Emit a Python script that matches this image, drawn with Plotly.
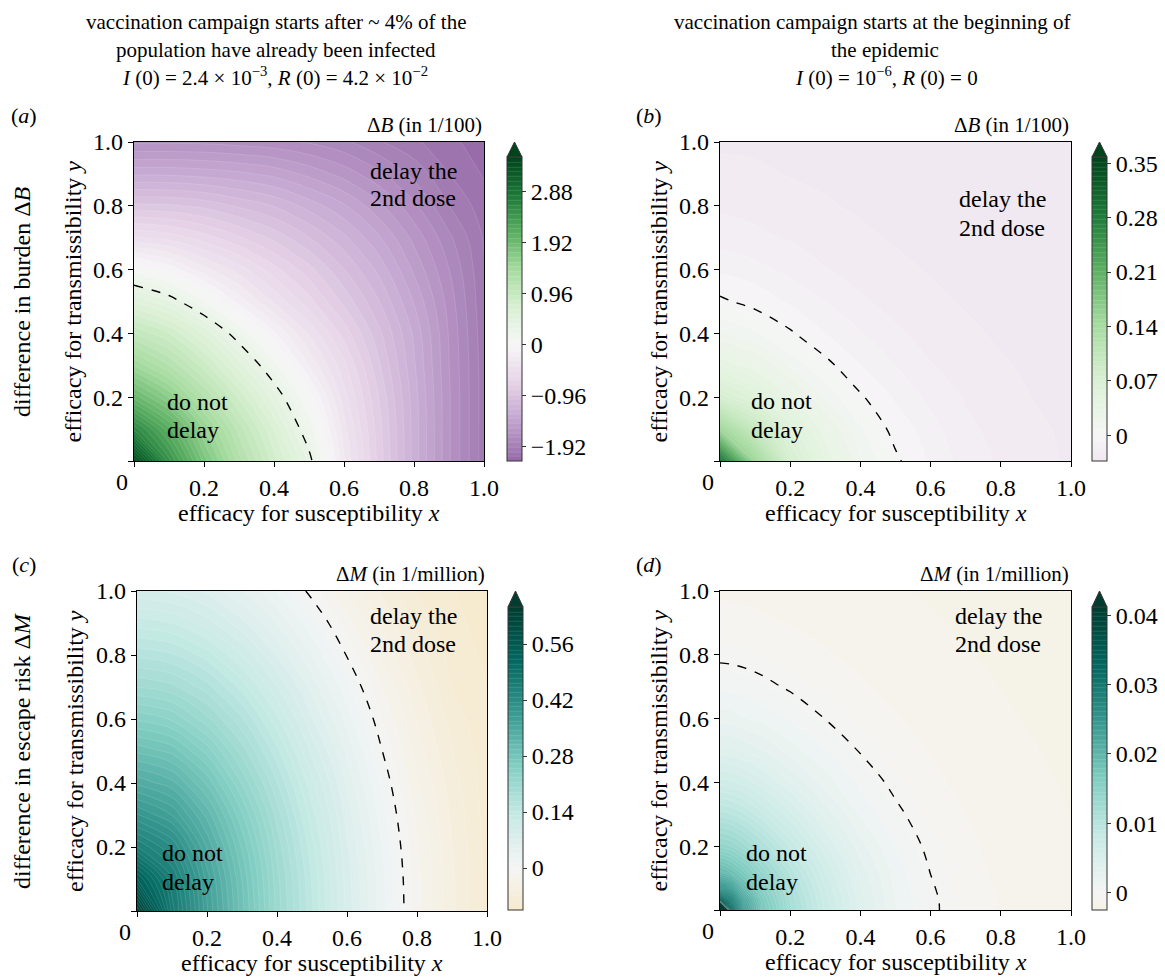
import plotly.graph_objects as go

W, H = 1165, 977
SERIF = "Liberation Serif, Times New Roman, serif"

# ---------------- data (read / estimated from the reference) ----------------
# common grid for panels a, b, c
grid_x = [0, 0.1, 0.2, 0.3, 0.4, 0.5, 0.6, 0.7, 0.8, 0.9, 1.0]
grid_y = [0, 0.1, 0.2, 0.3, 0.4, 0.5, 0.6, 0.7, 0.8, 0.9, 1.0]

# panel (a): difference in burden dB (in 1/100), start after ~4% infected
dB_late = [
    [3.45, 2.5, 1.8, 1.25, 0.8, 0.38, -0.3, -0.8, -1.25, -1.65, -1.98],
    [2.62, 2.13, 1.56, 1.08, 0.66, 0.2, -0.37, -0.82, -1.25, -1.65, -1.98],
    [1.98, 1.65, 1.22, 0.83, 0.44, 0.015, -0.46, -0.86, -1.26, -1.65, -1.98],
    [1.47, 1.21, 0.89, 0.54, 0.17, -0.23, -0.56, -0.93, -1.29, -1.66, -1.98],
    [1.03, 0.85, 0.57, 0.22, -0.12, -0.42, -0.71, -1.01, -1.32, -1.67, -1.99],
    [0.57, 0.41, 0.13, -0.17, -0.42, -0.64, -0.88, -1.12, -1.4, -1.7, -2.0],
    [0.08, -0.07, -0.28, -0.45, -0.64, -0.82, -1.03, -1.24, -1.5, -1.75, -2.01],
    [-0.48, -0.53, -0.63, -0.75, -0.88, -1.03, -1.19, -1.38, -1.6, -1.82, -2.03],
    [-0.92, -0.93, -0.97, -1.05, -1.13, -1.25, -1.38, -1.55, -1.73, -1.93, -2.07],
    [-1.32, -1.32, -1.34, -1.37, -1.42, -1.51, -1.61, -1.73, -1.87, -2.02, -2.12],
    [-1.68, -1.68, -1.68, -1.7, -1.72, -1.76, -1.82, -1.92, -2.0, -2.09, -2.15],
]

# panel (b): dB (in 1/100), campaign at the beginning of the epidemic
dB_early = [
    [0.31, 0.15, 0.075, 0.04, 0.017, 0.002, -0.0101, -0.0172, -0.0218, -0.0249, -0.028],
    [0.15, 0.0965, 0.0569, 0.0297, 0.011, -0.0036, -0.0126, -0.0195, -0.0228, -0.0258, -0.0282],
    [0.075, 0.0569, 0.0335, 0.015, 0.0014, -0.0098, -0.0164, -0.0214, -0.0243, -0.0273, -0.0284],
    [0.04, 0.0297, 0.015, 0.0032, -0.0085, -0.0147, -0.0205, -0.0233, -0.0262, -0.0282, -0.0288],
    [0.017, 0.011, 0.0014, -0.0085, -0.0141, -0.02, -0.0227, -0.0254, -0.028, -0.0286, -0.0291],
    [0.002, -0.0036, -0.0098, -0.0147, -0.02, -0.0225, -0.0251, -0.0277, -0.0285, -0.029, -0.0295],
    [-0.0101, -0.0126, -0.0164, -0.0205, -0.0227, -0.0251, -0.0275, -0.0284, -0.0289, -0.0294, -0.03],
    [-0.0172, -0.0195, -0.0214, -0.0233, -0.0254, -0.0277, -0.0284, -0.0289, -0.0294, -0.0299, -0.0304],
    [-0.0218, -0.0228, -0.0243, -0.0262, -0.028, -0.0285, -0.0289, -0.0294, -0.0299, -0.0304, -0.0309],
    [-0.0249, -0.0258, -0.0273, -0.0282, -0.0286, -0.029, -0.0294, -0.0299, -0.0304, -0.0309, -0.031],
    [-0.028, -0.0282, -0.0284, -0.0288, -0.0291, -0.0295, -0.03, -0.0304, -0.0309, -0.031, -0.031],
]

# panel (c): difference in escape risk dM (in 1/million), late start
dM_late = [
    [0.63, 0.47, 0.37, 0.29, 0.21, 0.145, 0.08, 0.03, -0.0178, -0.055, -0.085],
    [0.536, 0.454, 0.363, 0.285, 0.207, 0.143, 0.0786, 0.0288, -0.0187, -0.0556, -0.0852],
    [0.452, 0.416, 0.344, 0.272, 0.199, 0.136, 0.0743, 0.0251, -0.0216, -0.0573, -0.0857],
    [0.3935, 0.368, 0.317, 0.252, 0.186, 0.125, 0.0673, 0.019, -0.0263, -0.0601, -0.0866],
    [0.3418, 0.3254, 0.283, 0.225, 0.168, 0.111, 0.0578, 0.0108, -0.0328, -0.0641, -0.0877],
    [0.2947, 0.2815, 0.2454, 0.197, 0.1473, 0.0929, 0.0459, 0.0004, -0.0407, -0.069, -0.0892],
    [0.2477, 0.2366, 0.2063, 0.1689, 0.1233, 0.074, 0.032, -0.0106, -0.0473, -0.075, -0.091],
    [0.2023, 0.1946, 0.1724, 0.1388, 0.0968, 0.0562, 0.0162, -0.0231, -0.0549, -0.0819, -0.0932],
    [0.1641, 0.1573, 0.1377, 0.1072, 0.0712, 0.0367, -0.0011, -0.0371, -0.0634, -0.0866, -0.0955],
    [0.1259, 0.1198, 0.1022, 0.0758, 0.0483, 0.0159, -0.0178, -0.0483, -0.0728, -0.0894, -0.0982],
    [0.0877, 0.0821, 0.0694, 0.0499, 0.0244, -0.0053, -0.0357, -0.0593, -0.0829, -0.0925, -0.101],
]

# panel (d): dM (in 1/million), campaign at the beginning (finer grid near origin)
grid_x_d = [0, 0.03, 0.07, 0.12, 0.2, 0.3, 0.4, 0.5, 0.6, 0.7, 0.8, 0.9, 1.0]
grid_y_d = [0, 0.03, 0.07, 0.12, 0.2, 0.3, 0.4, 0.5, 0.6, 0.7, 0.8, 0.9, 1.0]
dM_early = [
    [0.06, 0.0343, 0.0238, 0.0174, 0.012, 0.0075, 0.004, 0.0016, 0.00027, -0.0008, -0.00123, -0.00151, -0.0018],
    [0.0365, 0.0298, 0.0224, 0.0169, 0.0118, 0.00736, 0.00394, 0.00157, 0.00025, -0.00081, -0.00123, -0.00151, -0.0018],
    [0.026, 0.0239, 0.0191, 0.0156, 0.0112, 0.007, 0.0037, 0.00145, 0.00014, -0.0009, -0.00125, -0.00152, -0.0018],
    [0.0195, 0.0185, 0.0165, 0.0138, 0.0102, 0.00636, 0.00333, 0.00127, -0.00003, -0.001, -0.00128, -0.00157, -0.00181],
    [0.0143, 0.0139, 0.0127, 0.011, 0.00825, 0.00506, 0.00254, 0.000877, -0.000294, -0.00107, -0.00135, -0.00163, -0.00183],
    [0.0101, 0.00984, 0.00911, 0.00787, 0.00587, 0.0034, 0.00146, 0.000274, -0.00071, -0.00118, -0.00145, -0.00173, -0.00186],
    [0.00671, 0.00653, 0.00604, 0.00519, 0.00364, 0.00191, 0.000709, -0.000314, -0.00106, -0.00131, -0.00158, -0.00181, -0.00189],
    [0.00392, 0.00381, 0.00351, 0.00299, 0.00193, 0.000891, -0.0000809, -0.000885, -0.00121, -0.00146, -0.00171, -0.00185, -0.00192],
    [0.00199, 0.00189, 0.00162, 0.00134, 0.0008, -0.0000222, -0.000729, -0.00114, -0.00137, -0.00161, -0.00182, -0.00189, -0.00196],
    [0.00074, 0.000689, 0.00055, 0.000306, -0.000151, -0.000734, -0.00111, -0.00132, -0.00155, -0.00178, -0.00186, -0.00193, -0.002],
    [-0.000252, -0.000287, -0.000384, -0.000555, -0.000911, -0.00113, -0.00131, -0.00151, -0.00173, -0.00184, -0.00191, -0.00197, -0.00204],
    [-0.00102, -0.00103, -0.00105, -0.0011, -0.00119, -0.00134, -0.00152, -0.00171, -0.00183, -0.00189, -0.00196, -0.00202, -0.00209],
    [-0.00125, -0.00126, -0.00128, -0.00132, -0.00141, -0.00156, -0.00172, -0.00183, -0.00189, -0.00194, -0.002, -0.00207, -0.00213],
]

axis_ticks = [0.2, 0.4, 0.6, 0.8, 1.0]
axis_ticktext = ['0.2', '0.4', '0.6', '0.8', '1.0']
cb_ticks_a = [-1.92, -0.96, 0, 0.96, 1.92, 2.88]
cb_ticks_b = [0, 0.07, 0.14, 0.21, 0.28, 0.35]
cb_ticks_c = [0, 0.14, 0.28, 0.42, 0.56]
cb_ticks_d = [0, 0.01, 0.02, 0.03, 0.04]
cb_range_a = (-2.20, 3.54)
cb_range_b = (-0.033, 0.358)
cb_range_c = (-0.105, 0.6525)
cb_range_d = (-0.00254, 0.0412)

# ---------------- styling helpers ----------------
PRGN = ['#40004b', '#762a83', '#9970ab', '#c2a5cf', '#e7d4e8', '#f7f7f7',
        '#d9f0d3', '#a6dba0', '#5aae61', '#1b7837', '#00441b']
BRBG = ['#543005', '#8c510a', '#bf812d', '#dfc27d', '#f6e8c3', '#f5f5f5',
        '#c7eae5', '#80cdc1', '#35978f', '#01665e', '#003c30']


def hex2rgb(h):
    return [int(h[i:i + 2], 16) for i in (1, 3, 5)]


def cmap_at(anchors, t):
    t = min(max(t, 0), 1)
    pos = t * (len(anchors) - 1)
    i = min(int(pos), len(anchors) - 2)
    f = pos - i
    a, b = hex2rgb(anchors[i]), hex2rgb(anchors[i + 1])
    c = [round(a[j] + (b[j] - a[j]) * f) for j in range(3)]
    return f"rgb({c[0]},{c[1]},{c[2]})"


def trunc_scale(anchors, vmin, vmax):
    S = max(abs(vmin), abs(vmax))
    out = []
    for i in range(41):
        t = i / 40
        v = vmin + t * (vmax - vmin)
        out.append([t, cmap_at(anchors, 0.5 + v / (2 * S))])
    return out


def px(x):
    return x / W


def py(y):
    return 1 - y / H


def fmt(v):
    s = f"{v:g}"
    return s.replace('-', '−')


panels = [
    dict(x=grid_x, y=grid_y, z=dB_late, cm=PRGN, rng=cb_range_a, dash=0.32, ax=(134, 484, 142, 461),
         cb=(507, 522, 157, 461, 142), tv=cb_ticks_a, dot=0.96,
         lab='(<i>a</i>)', cbl='Δ<i>B</i> (in 1/100)',
         t1=('delay the', '2nd dose', 413, 171, 198), t2=('do not', 'delay', 165, 402, 430)),
    dict(x=grid_x, y=grid_y, z=dB_early, cm=PRGN, rng=cb_range_b, dash=0.0, ax=(720, 1071, 142, 461),
         cb=(1092, 1107, 157, 461, 142), tv=cb_ticks_b, dot=0.0,
         lab='(<i>b</i>)', cbl='Δ<i>B</i> (in 1/100)',
         t1=('delay the', '2nd dose', 1002, 199, 228), t2=('do not', 'delay', 749, 401, 430)),
    dict(x=grid_x, y=grid_y, z=dM_late, cm=BRBG, rng=cb_range_c, dash=0.0, ax=(137, 487, 591, 911),
         cb=(508, 523, 607, 910, 591), tv=cb_ticks_c, dot=0.0,
         lab='(<i>c</i>)', cbl='Δ<i>M</i> (in 1/million)',
         t1=('delay the', '2nd dose', 413, 616, 644), t2=('do not', 'delay', 160, 853, 882)),
    dict(x=grid_x_d, y=grid_y_d, z=dM_early, cm=BRBG, rng=cb_range_d, dash=0.0, ax=(720, 1071, 591, 910),
         cb=(1092, 1107, 607, 910, 591), tv=cb_ticks_d, dot=0.0,
         lab='(<i>d</i>)', cbl='Δ<i>M</i> (in 1/million)',
         t1=('delay the', '2nd dose', 998, 616, 644), t2=('do not', 'delay', 744, 853, 882)),
]

fig = go.Figure()
shapes = []
annotations = []


def ann(text, x, y, size=24, xanchor='center', angle=0):
    annotations.append(dict(text=text, x=px(x), y=py(y), xref='paper', yref='paper', showarrow=False,
                            xanchor=xanchor, yanchor='middle', textangle=angle,
                            font=dict(family=SERIF, size=size, color='black')))


layout_axes = {}
for i, P in enumerate(panels):
    n = '' if i == 0 else str(i + 1)
    xa, ya = 'x' + n, 'y' + n
    L, R, T, B = P['ax']
    vmin, vmax = P['rng']
    cs = trunc_scale(P['cm'], vmin, vmax)
    cL, cR, cT, cB, cTip = P['cb']
    nlev = 64
    fig.add_trace(go.Contour(
        x=P['x'], y=P['y'], z=P['z'], xaxis=xa, yaxis=ya, colorscale=cs, zauto=False,
        zmin=vmin, zmax=vmax, hoverinfo='skip',
        contours=dict(start=vmin, end=vmax, size=(vmax - vmin) / nlev, coloring='fill', showlines=True),
        line=dict(width=0.5, color='rgba(255,255,255,0.25)', smoothing=1.0),
        colorbar=dict(x=px(cL), xanchor='left', y=py(cB), yanchor='bottom', len=cB - cT, lenmode='pixels',
                      thickness=cR - cL, thicknessmode='pixels', xpad=0, ypad=0, outlinewidth=1,
                      outlinecolor='#333', ticks='outside', ticklen=4, tickwidth=1, tickcolor='#333',
                      tickvals=P['tv'], ticktext=[fmt(v) for v in P['tv']],
                      tickfont=dict(family=SERIF, size=24, color='black')),
    ))
    fig.add_trace(go.Contour(
        x=P['x'], y=P['y'], z=P['z'], xaxis=xa, yaxis=ya, showscale=False, hoverinfo='skip',
        contours=dict(start=P['dash'], end=P['dash'], size=1, coloring='none'),
        line=dict(width=1.4, color='black', dash='dash', smoothing=1.0),
    ))
    common = dict(range=[0, 1], showline=True, mirror=True, linecolor='black', linewidth=1.3,
                  ticks='outside', ticklen=5, tickwidth=1.3, tickcolor='black',
                  tickfont=dict(family=SERIF, size=24, color='black'), showgrid=False, zeroline=False,
                  tickvals=axis_ticks, ticktext=axis_ticktext,
                  minor=dict(tickvals=[0], ticks='outside', ticklen=5, tickwidth=1.3, tickcolor='black'))
    layout_axes['xaxis' + n] = dict(common, domain=[px(L), px(R)], anchor=ya)
    layout_axes['yaxis' + n] = dict(common, domain=[py(B), py(T)], anchor=xa)
    top_col = cs[-1][1]
    shapes.append(dict(type='path', xref='paper', yref='paper',
                       path=f"M {px(cL)},{py(cT)} L {px(cR)},{py(cT)} L {px((cL + cR) / 2)},{py(cTip)} Z",
                       fillcolor=top_col, line=dict(color='#333', width=1)))
    yd = cT + (vmax - P['dot']) / (vmax - vmin) * (cB - cT)
    shapes.append(dict(type='line', xref='paper', yref='paper', x0=px(cL + 1), x1=px(cL + 8),
                       y0=py(yd), y1=py(yd), line=dict(color='black', width=1, dash='dot')))
    ann(P['lab'], 24 if i in (0, 2) else 649, T - 27, size=22)
    ann(P['cbl'], R, T - 17, size=21, xanchor='right')
    ann(P['t1'][0], P['t1'][2], P['t1'][3])
    ann(P['t1'][1], P['t1'][2], P['t1'][4])
    ann(P['t2'][0], P['t2'][2], P['t2'][3], xanchor='left')
    ann(P['t2'][1], P['t2'][2], P['t2'][4], xanchor='left')
    ann('0', L - 12, B + 21)
    ann('efficacy for susceptibility <i>x</i>', (L + R) / 2, B + 52)
    ann('efficacy for transmissibility <i>y</i>', L - 62, (T + B) / 2, angle=-90)

ann('difference in burden Δ<i>B</i>', 22, 302, angle=-90)
ann('difference in escape risk Δ<i>M</i>', 22, 751, angle=-90)
ann('vaccination campaign starts after ~ 4% of the', 276, 22, size=21)
ann('population have already been infected', 276, 50, size=21)
ann('<i>I</i> (0) = 2.4 × 10<sup>−3</sup>, <i>R</i> (0) = 4.2 × 10<sup>−2</sup>', 275, 76, size=21)
ann('vaccination campaign starts at the beginning of', 872, 22, size=21)
ann('the epidemic', 885, 50, size=21)
ann('<i>I</i> (0) = 10<sup>−6</sup>, <i>R</i> (0) = 0', 886, 76, size=21)

fig.update_layout(width=W, height=H, margin=dict(l=0, r=0, t=0, b=0, pad=0, autoexpand=False),
                  paper_bgcolor='white', plot_bgcolor='white', showlegend=False,
                  shapes=shapes, annotations=annotations, **layout_axes)
fig.write_html("out.html", post_script="document.body.style.margin='0';")
